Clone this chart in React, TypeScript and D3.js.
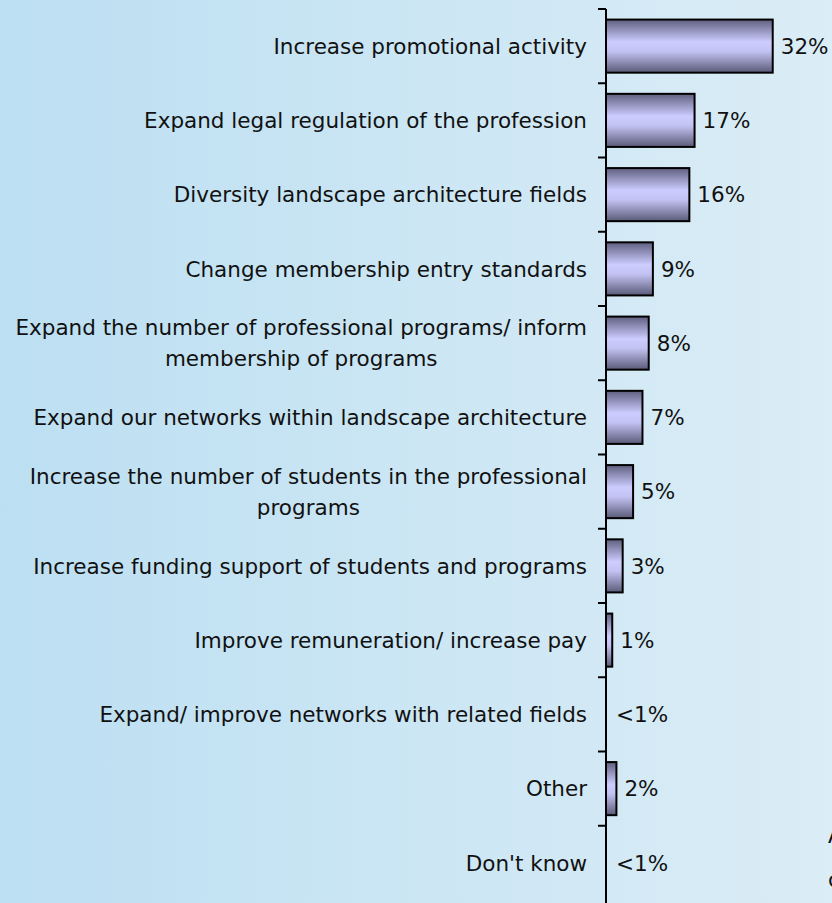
import { useEffect, useRef } from "react";
import * as d3 from "d3";

// categories (lines of each label), values in %, and the printed value labels
const categories: string[][] = [
  ["Increase promotional activity"],
  ["Expand legal regulation of the profession"],
  ["Diversity landscape architecture fields"],
  ["Change membership entry standards"],
  ["Expand the number of professional programs/ inform", "membership of programs"],
  ["Expand our networks within landscape architecture"],
  ["Increase the number of students in the professional", "programs"],
  ["Increase funding support of students and programs"],
  ["Improve remuneration/ increase pay"],
  ["Expand/ improve networks with related fields"],
  ["Other"],
  ["Don't know"],
];
const values: number[] = [32, 17, 16, 9, 8.2, 7, 5.2, 3.2, 1.2, 0, 2, 0];
const valueLabels: string[] = ["32%", "17%", "16%", "9%", "8%", "7%", "5%", "3%", "1%", "<1%", "2%", "<1%"];

const W = 832;
const H = 903;
const FONT = "'DejaVu Sans', Verdana, sans-serif";
const FS = 21.5;

export default function App() {
  const ref = useRef<SVGSVGElement>(null);

  useEffect(() => {
    if (!ref.current) return;
    const svg = d3.select(ref.current);
    svg.selectAll("*").remove();

    const axisX = 606;
    const x = d3.scaleLinear().domain([0, 40]).range([axisX, axisX + 5.21 * 40]);
    const y = d3.scaleBand<number>()
      .domain(d3.range(categories.length))
      .range([9, 9 + 74.25 * categories.length])
      .paddingInner(0.285)
      .paddingOuter(0.1425);
    const step = y.step();

    const defs = svg.append("defs");
    const bg = defs.append("linearGradient").attr("id", "bg").attr("x1", "0").attr("x2", "1").attr("y1", "0").attr("y2", "0");
    bg.append("stop").attr("offset", "0").attr("stop-color", "#bcdff2");
    bg.append("stop").attr("offset", "1").attr("stop-color", "#dbedf6");

    const bar = defs.append("linearGradient").attr("id", "bar").attr("x1", "0").attr("x2", "0").attr("y1", "0").attr("y2", "1");
    bar.append("stop").attr("offset", "0").attr("stop-color", "#5f5f80");
    bar.append("stop").attr("offset", "0.42").attr("stop-color", "#ccccff");
    bar.append("stop").attr("offset", "0.6").attr("stop-color", "#c2c2f2");
    bar.append("stop").attr("offset", "1").attr("stop-color", "#5a5a78");

    svg.append("rect").attr("width", W).attr("height", H).attr("fill", "url(#bg)");

    // bars (rows with 0 have no bar)
    const idx = d3.range(values.length).filter(i => values[i] > 0);
    svg.append("g")
      .selectAll("rect")
      .data(idx)
      .join("rect")
        .attr("x", x(0))
        .attr("y", i => y(i)!)
        .attr("width", i => x(values[i]) - x(0))
        .attr("height", y.bandwidth())
        .attr("fill", "url(#bar)")
        .attr("stroke", "#000")
        .attr("stroke-width", 2);

    // axis line + ticks between categories
    const axis = svg.append("g").attr("stroke", "#000").attr("stroke-width", 2);
    axis.append("line").attr("x1", axisX).attr("x2", axisX).attr("y1", y.range()[0]).attr("y2", H);
    d3.range(categories.length).forEach(i => {
      const t = y.range()[0] + i * step;
      axis.append("line").attr("x1", axisX - 8).attr("x2", axisX).attr("y1", t).attr("y2", t);
    });

    // value labels
    svg.append("g")
      .selectAll("text")
      .data(values)
      .join("text")
        .attr("x", d => x(d) + (d > 0 ? 8 : 10))
        .attr("y", (_, i) => y(i)! + y.bandwidth() / 2)
        .attr("dy", "0.36em")
        .attr("font-family", FONT)
        .attr("font-size", FS)
        .attr("fill", "#111")
        .text((_, i) => valueLabels[i]);

    // category labels, right aligned, multi-line centred in their block
    const right = 587;
    const lineH = 31;
    const lab = svg.append("g").attr("font-family", FONT).attr("font-size", FS).attr("fill", "#111");
    categories.forEach((lines, i) => {
      const cy = y(i)! + y.bandwidth() / 2;
      const texts = lines.map((s, j) =>
        lab.append("text")
          .attr("y", cy + (j - (lines.length - 1) / 2) * lineH)
          .attr("dy", "0.36em")
          .text(s)
      );
      const widths = texts.map(t => (t.node() as SVGTextElement).getComputedTextLength());
      const maxW = d3.max(widths) || 0;
      texts.forEach(t => t.attr("text-anchor", "middle").attr("x", right - maxW / 2));
    });

    // text cut off at the right edge, as in the source
    svg.append("text").attr("x", 828).attr("y", 843).attr("font-family", FONT).attr("font-size", FS).attr("fill", "#111").text("A");
    svg.append("text").attr("x", 828).attr("y", 887).attr("font-family", FONT).attr("font-size", FS).attr("fill", "#111").text("c");
  }, []);

  return (
    <svg ref={ref} width={W} height={H} style={{ position: "absolute", left: 0, top: 0, display: "block" }} />
  );
}
